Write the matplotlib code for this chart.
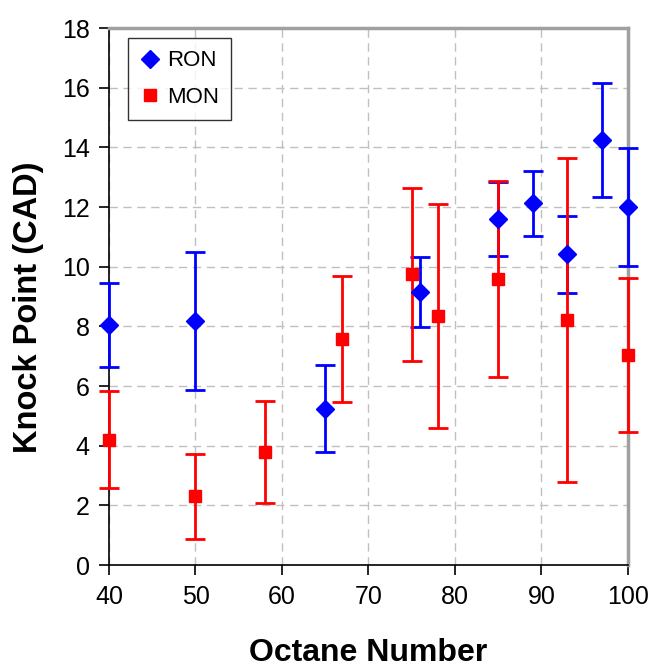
import matplotlib
matplotlib.use("Agg")
import matplotlib.pyplot as plt

plt.rcParams['font.family'] = ['Liberation Sans', 'DejaVu Sans']

# RON data: octane number, knock point, error bar top / bottom
ron_x = [40, 50, 65, 76, 85, 89, 93, 97, 100]
ron_y = [8.05, 8.18, 5.23, 9.15, 11.6, 12.14, 10.43, 14.25, 12.0]
ron_hi = [9.45, 10.5, 6.7, 10.33, 12.84, 13.2, 11.7, 16.16, 13.98]
ron_lo = [6.64, 5.87, 3.79, 7.98, 10.36, 11.03, 9.12, 12.34, 10.02]

# MON data
mon_x = [40, 50, 58, 67, 75, 78, 85, 93, 100]
mon_y = [4.19, 2.31, 3.79, 7.58, 9.75, 8.35, 9.59, 8.21, 7.04]
mon_hi = [5.83, 3.72, 5.5, 9.69, 12.64, 12.1, 12.87, 13.64, 9.62]
mon_lo = [2.58, 0.87, 2.08, 5.46, 6.84, 4.59, 6.3, 2.78, 4.46]

fig = plt.figure(figsize=(6.54, 6.68), dpi=100)
ax = fig.add_axes([0.1667, 0.154, 0.7933, 0.804])

def err(y, hi, lo):
    return [[v - l for v, l in zip(y, lo)], [h - v for v, h in zip(y, hi)]]

for xs, ys, hi, lo, mk, col, lab in [
        (ron_x, ron_y, ron_hi, ron_lo, 'D', '#0000ff', 'RON'),
        (mon_x, mon_y, mon_hi, mon_lo, 's', '#ff0000', 'MON')]:
    cont = ax.errorbar(xs, ys, yerr=err(ys, hi, lo), fmt=mk, color=col, ms=9,
                       ecolor=col, elinewidth=2, capsize=7, capthick=2, label=lab, zorder=3)
    for art in cont.get_children():
        art.set_clip_on(False)

ax.set_xlim(40, 100)
ax.set_ylim(0, 18)
ax.set_xticks(range(40, 101, 10))
ax.set_yticks(range(0, 19, 2))
ax.grid(True, color='#c0c0c0', linestyle=(0, (6, 4)), linewidth=1)
ax.set_axisbelow(True)
ax.tick_params(direction='out', length=7, width=1.2, labelsize=18, pad=7)

for s in ['top', 'right']:
    ax.spines[s].set_color('#a0a0a0')
    ax.spines[s].set_linewidth(2.5)
for s in ['left', 'bottom']:
    ax.spines[s].set_color('black')
    ax.spines[s].set_linewidth(1.2)

ax.set_xlabel('Octane Number', fontsize=23, fontweight='bold', labelpad=21)
ax.set_ylabel('Knock Point (CAD)', fontsize=23.5, fontweight='bold')
ax.yaxis.set_label_coords(-0.125, 0.48)

handles, labels = ax.get_legend_handles_labels()
handles = [h[0] for h in handles]
leg = ax.legend(handles, labels, loc='upper left', bbox_to_anchor=(0.037, 0.981),
                borderaxespad=0, fontsize=16, frameon=True, fancybox=False,
                edgecolor='black', handlelength=0.9, handletextpad=0.3,
                borderpad=0.55, labelspacing=0.7)
leg.get_frame().set_linewidth(1.0)

fig.savefig('out.png', dpi=100)
